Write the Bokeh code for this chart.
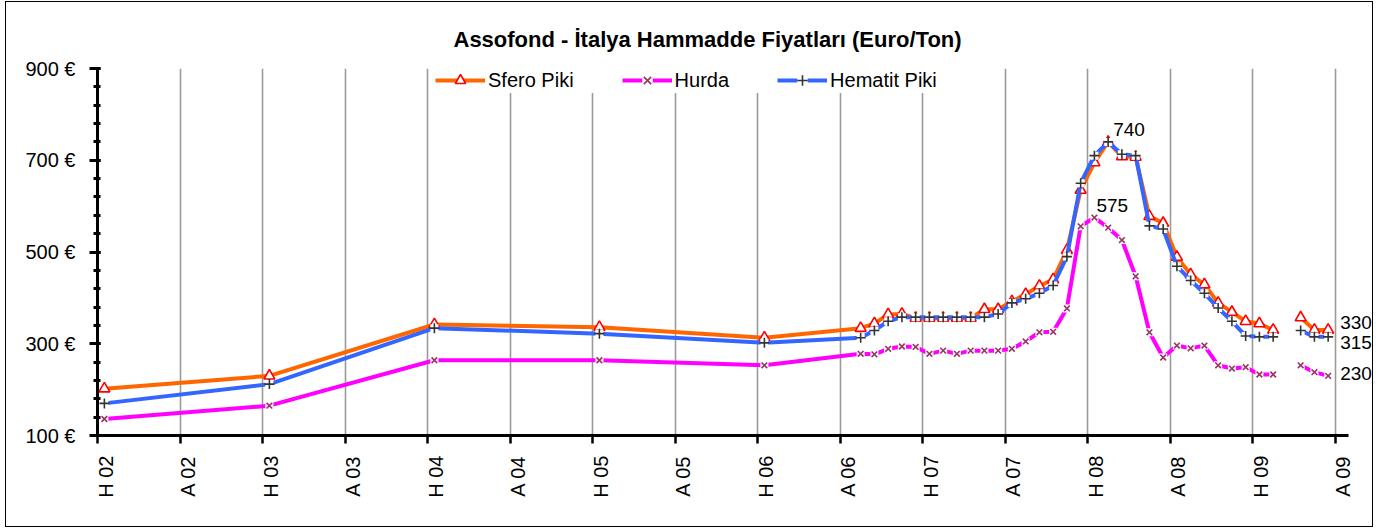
import math
from bokeh.plotting import figure
from bokeh.models import (Range1d, FixedTicker, Legend, LegendItem, ColumnDataSource,
                          Label, LinearAxis, CustomLabelingPolicy)
from bokeh.embed import file_html
from bokeh.resources import INLINE

nan = float("nan")

# ---------------- data ----------------
dates = ["2002-06", "2003-06", "2004-06", "2005-06", "2006-06",
         "2007-01", "2007-02", "2007-03", "2007-04", "2007-05", "2007-06",
         "2007-07", "2007-08", "2007-09", "2007-10", "2007-11", "2007-12",
         "2008-01", "2008-02", "2008-03", "2008-04", "2008-05", "2008-06",
         "2008-07", "2008-08", "2008-09", "2008-10", "2008-11", "2008-12",
         "2009-01", "2009-02", "2009-03", "2009-04", "2009-05", "2009-06",
         "2009-07", "2009-08", "2009-09", "2009-10", "2009-11"]

sfero_piki = [202, 230, 342, 336, 313,
              334, 344, 364, 365, 356, 356, 356, 356, 356, 375, 375, 392,
              408, 426, 440, 504, 635, 695, 740, 708, 707, 578, 563, 489,
              451, 429, 389, 369, 349, 344, 330, nan, 357, 330, 330]

hurda = [136, 165, 264, 264, 253,
         278, 277, 289, 294, 293, 278, 285, 278, 285, 285, 285, 289,
         305, 325, 326, 377, 556, 575, 553, 526, 447, 325, 270, 296,
         290, 296, 253, 246, 249, 233, 233, nan, 253, 238, 230]

hematit_piki = [170, 212, 334, 322, 302,
                313, 329, 349, 358, 358, 358, 358, 358, 358, 358, 365, 389,
                398, 410, 427, 490, 650, 710, 740, 713, 710, 557, 550, 469,
                438, 410, 378, 349, 317, 315, 315, nan, 329, 315, 315]

x_labels = ["H 02", "A 02", "H 03", "A 03", "H 04", "A 04", "H 05", "A 05",
            "H 06", "A 06", "H 07", "A 07", "H 08", "A 08", "H 09", "A 09"]
y_labels = [100, 300, 500, 700, 900]

title_text = "Assofond - İtalya Hammadde Fiyatları (Euro/Ton)"


# ---------------- helpers ----------------
def month_x(d):
    yy, mm = d.split("-")
    return (int(yy) - 2002) * 12 + int(mm) - 1 + 0.5


def tick_x(lbl):
    kind, yy = lbl.split(" ")
    return (int(yy) - 2) * 12 + (5 if kind == "H" else 11)


xs = [month_x(d) for d in dates]
ticks = [tick_x(l) for l in x_labels]

FONT = "Liberation Sans"
X_START, X_AXIS_END, X_VIEW_END = 5, 95.95, 97.87
LABEL_SHIFT = 0.6   # x tick labels sit just right of their tick (as in Excel)

p = figure(width=1368, height=526, output_backend="svg", toolbar_location=None,
           x_range=Range1d(X_START, X_VIEW_END), y_range=Range1d(100, 900),
           min_border_left=91, min_border_right=0, min_border_top=66,
           min_border_bottom=93, background_fill_color="white",
           border_fill_color="white")
p.styles = {"border": "1.5px solid #000", "margin-left": "5px", "margin-top": "1px"}
p.outline_line_color = None

# title
p.title.text = title_text
p.title.text_font = FONT
p.title.text_font_size = "22px"
p.title.text_font_style = "bold"
p.title.text_color = "black"
p.title.align = "left"
p.title.offset = 356
p.title.standoff = 34

# x axis: line + ticks only (labels are drawn by a second, label-only axis)
xa = p.xaxis[0]
xa.bounds = (X_START, X_AXIS_END)
xa.ticker = FixedTicker(ticks=ticks)
xa.major_label_policy = CustomLabelingPolicy(
    code="for (const i of indices) { indices.unset(i) } return indices")
xa.major_label_text_font_size = "0px"
xa.major_label_standoff = 0
xa.axis_line_width = 3
xa.axis_line_color = "black"
xa.major_tick_line_width = 2.5
xa.major_tick_line_color = "black"
xa.major_tick_out = 8
xa.major_tick_in = 0
xa.minor_tick_line_color = None

lab_ticks = [round(t + LABEL_SHIFT, 3) for t in ticks]
xl = LinearAxis(ticker=FixedTicker(ticks=lab_ticks),
                major_label_overrides={t: l for t, l in zip(lab_ticks, x_labels)},
                major_label_orientation=math.pi / 2,
                major_label_text_font=FONT, major_label_text_font_size="20px",
                major_label_text_color="black", major_label_standoff=12,
                axis_line_color=None, major_tick_line_color=None,
                minor_tick_line_color=None, major_tick_out=0, major_tick_in=0)
p.add_layout(xl, "below")

p.yaxis.ticker = FixedTicker(ticks=y_labels, minor_ticks=list(range(100, 901, 40)))
p.yaxis.major_label_overrides = {v: f"{v} €" for v in y_labels}
p.yaxis.major_label_text_font = FONT
p.yaxis.major_label_text_font_size = "20px"
p.yaxis.major_label_text_color = "black"
p.yaxis.major_label_standoff = 14
p.yaxis.axis_line_width = 3
p.yaxis.axis_line_color = "black"
p.yaxis.major_tick_line_width = 3
p.yaxis.major_tick_line_color = "black"
p.yaxis.major_tick_out = 8
p.yaxis.major_tick_in = 3
p.yaxis.minor_tick_line_width = 3
p.yaxis.minor_tick_line_color = "black"
p.yaxis.minor_tick_out = 4
p.yaxis.minor_tick_in = 3

p.ygrid.grid_line_color = None
p.xgrid.grid_line_color = "#9a9a9a"
p.xgrid.grid_line_width = 1.6
p.xgrid.ticker = FixedTicker(ticks=ticks)

src = ColumnDataSource(dict(x=xs, sfero=sfero_piki, hurda=hurda, hematit=hematit_piki))

# Sfero Piki
l1 = p.line("x", "sfero", source=src, line_color="#FF6600", line_width=4, line_join="round")
m1 = p.scatter("x", "sfero", source=src, marker="triangle", size=11,
               fill_color="white", line_color="#FF0000", line_width=1.6)
# Hurda
l2 = p.line("x", "hurda", source=src, line_color="#FF00FF", line_width=4, line_join="round")
b2 = p.scatter("x", "hurda", source=src, marker="square", size=8,
               fill_color="white", line_color=None)
m2 = p.scatter("x", "hurda", source=src, marker="x", size=8,
               line_color="#993366", line_width=1.6)
# Hematit Piki
l3 = p.line("x", "hematit", source=src, line_color="#3366FF", line_width=4, line_join="round")
b3 = p.scatter("x", "hematit", source=src, marker="square", size=8,
               fill_color="white", line_color=None)
m3 = p.scatter("x", "hematit", source=src, marker="cross", size=10,
               line_color="#333333", line_width=1.6)

legend = Legend(items=[LegendItem(label="Sfero Piki", renderers=[l1, m1]),
                       LegendItem(label="Hurda", renderers=[l2, b2, m2]),
                       LegendItem(label="Hematit Piki", renderers=[l3, b3, m3])],
                orientation="horizontal", location=(338, 342),
                background_fill_color="white", background_fill_alpha=1.0,
                border_line_color=None, label_text_font=FONT,
                label_text_font_size="20px", label_text_color="black",
                glyph_width=50, glyph_height=26, spacing=48, label_standoff=3,
                padding=4, margin=0)
p.add_layout(legend)

# data labels (value taken from the series)
series = {"sfero": sfero_piki, "hurda": hurda, "hematit": hematit_piki}
label_specs = [("hematit", "2008-07", 5, 12),
               ("hurda", "2008-06", 2, 12),
               ("sfero", "2009-11", 12, 7),
               ("hematit", "2009-11", 12, -6),
               ("hurda", "2009-11", 12, 2)]
for key, d, dx, dy in label_specs:
    i = dates.index(d)
    v = series[key][i]
    p.add_layout(Label(x=xs[i], y=v, text=f"{v:.0f}", x_offset=dx, y_offset=dy,
                       text_font=FONT, text_font_size="19px", text_color="black",
                       text_align="left", text_baseline="middle"))

open("out.html", "w").write(file_html(p, INLINE))
